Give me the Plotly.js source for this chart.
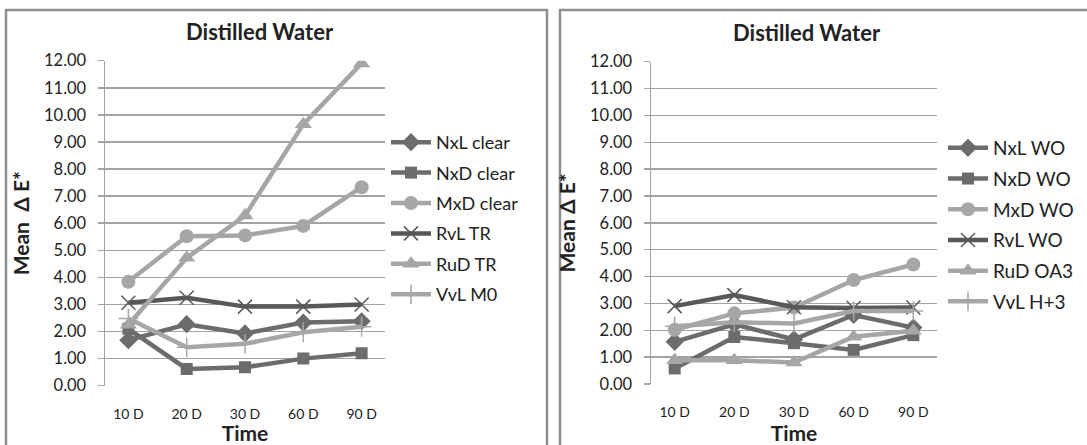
<!DOCTYPE html>
<html>
<head>
<meta charset="utf-8">
<script src="https://cdn.plot.ly/plotly-3.0.1.min.js"></script>
<style>html,body{margin:0;padding:0;background:#fff;}#chart{width:1087px;height:445px;}</style>
</head>
<body>
<div id="chart"></div>
<script>
const times = ["10 D", "20 D", "30 D", "60 D", "90 D"];

const leftNames = ["NxL clear", "NxD clear", "MxD clear", "RvL TR", "RuD TR", "VvL M0"];
const nxlClear = [1.68, 2.27, 1.93, 2.33, 2.38];
const nxdClear = [2.10, 0.62, 0.68, 1.00, 1.20];
const mxdClear = [3.84, 5.52, 5.55, 5.90, 7.33];
const rvlTR    = [3.06, 3.25, 2.92, 2.92, 3.00];
const rudTR    = [2.25, 4.72, 6.28, 9.65, 11.90];
const vvlM0    = [2.48, 1.42, 1.55, 1.97, 2.18];

const rightNames = ["NxL WO", "NxD WO", "MxD WO", "RvL WO", "RuD OA3", "VvL H+3"];
const nxlWO  = [1.57, 2.22, 1.66, 2.57, 2.10];
const nxdWO  = [0.58, 1.75, 1.52, 1.27, 1.82];
const mxdWO  = [2.02, 2.63, 2.85, 3.87, 4.45];
const rvlWO  = [2.90, 3.31, 2.86, 2.83, 2.85];
const rudOA3 = [0.88, 0.88, 0.80, 1.76, 1.98];
const vvlH3  = [2.15, 2.30, 2.25, 2.72, 2.72];

const titleText = "Distilled Water";
const yTitleLeft = "Mean  Δ E*";
const yTitleRight = "Mean Δ E*";
const xTitle = "Time";

const FONT = "Lato, 'Open Sans', sans-serif";
const dark = "#6c6c6d";
const darker = "#58585a";
const light = "#a6a6a7";

const styles = [
  {color: dark,   symbol: "diamond",         size: 14},
  {color: dark,   symbol: "square",          size: 12},
  {color: light,  symbol: "circle",          size: 14},
  {color: darker, symbol: "x-thin-open",     size: 14},
  {color: light,  symbol: "triangle-up",     size: 15},
  {color: light,  symbol: "cross-thin-open", size: 14}
];

function makeTraces(names, series, xa, ya, leg) {
  return series.map((vals, i) => {
    const s = styles[i];
    const thin = s.symbol.indexOf("thin") >= 0;
    return {
      type: "scatter", mode: "lines+markers",
      x: times, y: vals, name: names[i],
      xaxis: xa, yaxis: ya, legend: leg, legendgroup: leg + i,
      line: {color: s.color, width: 4.5},
      marker: {symbol: s.symbol, size: s.size, color: s.color,
               line: {color: s.color, width: thin ? 1.5 : 0}}
    };
  });
}

const traces = [].concat(
  makeTraces(leftNames, [nxlClear, nxdClear, mxdClear, rvlTR, rudTR, vvlM0], "x", "y", "legend"),
  makeTraces(rightNames, [nxlWO, nxdWO, mxdWO, rvlWO, rudOA3, vvlH3], "x2", "y2", "legend2")
);

const W = 1087, H = 445;
function yAxis(dom, anchor, t) {
  return {
    domain: dom, anchor: anchor, range: [0, 12], dtick: 1, tickformat: ".2f",
    showgrid: true, gridcolor: "#a3a3a3", gridwidth: 1.5,
    showline: true, linecolor: "#a3a3a3", linewidth: 1.5,
    ticks: "outside", ticklen: 6, tickcolor: "#a3a3a3", tickwidth: 1.5,
    ticklabelstandoff: 8,
    zeroline: false, fixedrange: true,
    tickfont: {family: FONT, size: 16.5, color: "#222"},
    title: {text: t, font: {family: FONT, size: 21, color: "#222", weight: "bold"}, standoff: 8}
  };
}
function xAxis(dom, anchor) {
  return {
    domain: dom, anchor: anchor, type: "category",
    showgrid: false, showline: false, zeroline: false, ticks: "",
    ticklabelstandoff: 18, fixedrange: true,
    tickfont: {family: FONT, size: 14, color: "#222"},
    title: {text: xTitle, font: {family: FONT, size: 21, color: "#222", weight: "bold"}, standoff: 2}
  };
}

const legendBase = {
  font: {family: FONT, size: 18, color: "#222"},
  bgcolor: "rgba(0,0,0,0)", borderwidth: 0,
  tracegroupgap: 4, xanchor: "left", yanchor: "top", itemwidth: 40
};

const layout = {
  width: W, height: H,
  margin: {l: 0, r: 0, t: 0, b: 0},
  paper_bgcolor: "#fff", plot_bgcolor: "#fff",
  showlegend: true,
  xaxis: xAxis([105 / W, 385 / W], "y"),
  yaxis: yAxis([1 - 385.7 / H, 1 - 60.7 / H], "x", yTitleLeft),
  xaxis2: xAxis([651 / W, 937 / W], "y2"),
  yaxis2: yAxis([1 - 384 / H, 1 - 61.7 / H], "x2", yTitleRight),
  legend: Object.assign({}, legendBase, {x: 386 / W, y: 1 - 124 / H}),
  legend2: Object.assign({}, legendBase, {x: 943 / W, y: 1 - 129 / H, tracegroupgap: 3,
                                          font: {family: FONT, size: 19, color: "#222"}}),
  annotations: [
    {text: titleText, xref: "paper", yref: "paper", x: 260 / W, y: 1 - 31 / H, showarrow: false,
     xanchor: "center", yanchor: "middle", font: {family: FONT, size: 22, color: "#222", weight: "bold"}},
    {text: titleText, xref: "paper", yref: "paper", x: 807 / W, y: 1 - 32 / H, showarrow: false,
     xanchor: "center", yanchor: "middle", font: {family: FONT, size: 22, color: "#222", weight: "bold"}}
  ],
  shapes: [
    {type: "rect", xref: "paper", yref: "paper", x0: 6 / W, x1: 547 / W, y0: -0.05, y1: 1 - 10 / H,
     line: {color: "#8e8e8e", width: 2.5}},
    {type: "rect", xref: "paper", yref: "paper", x0: 560 / W, x1: 1.05, y0: -0.05, y1: 1 - 10 / H,
     line: {color: "#8e8e8e", width: 2.5}}
  ]
};

Plotly.newPlot("chart", traces, layout, {staticPlot: true, displayModeBar: false});
</script>
</body>
</html>
